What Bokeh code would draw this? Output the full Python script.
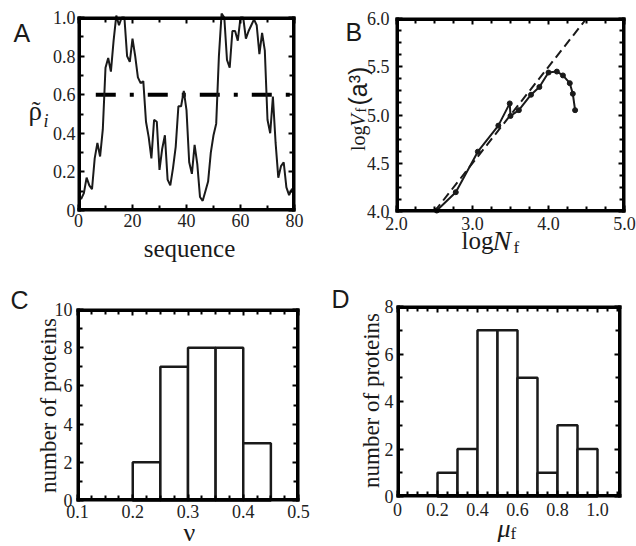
import math
from bokeh.plotting import figure
from bokeh.models import Range1d, LinearAxis, FixedTicker, Label
from bokeh.layouts import column, row
from bokeh.embed import file_html
from bokeh.resources import INLINE

# ---------------- data ----------------
# Panel A: normalized density along the sequence
seq_pos = list(range(81))
rho = [0.07, 0.06, 0.09, 0.17, 0.13, 0.11, 0.27, 0.35, 0.28, 0.42,
       0.74, 0.79, 0.72, 0.88, 1.01, 0.96, 1.00, 1.00, 0.80, 0.77,
       0.89, 0.80, 0.69, 0.66, 0.67, 0.46, 0.38, 0.27, 0.47, 0.46,
       0.21, 0.32, 0.39, 0.16, 0.13, 0.22, 0.33, 0.54, 0.54, 0.62,
       0.52, 0.25, 0.19, 0.34, 0.24, 0.07, 0.05, 0.10, 0.15, 0.30,
       0.39, 0.45, 0.80, 1.02, 1.00, 0.78, 0.74, 0.93, 0.93, 0.88,
       1.00, 1.00, 0.89, 0.93, 0.96, 0.99, 0.96, 0.81, 0.92, 0.83,
       0.47, 0.40, 0.59, 0.35, 0.17, 0.23, 0.25, 0.12, 0.08, 0.11, 0.11]
threshold_x = [6.4, 80]
threshold_y = [0.6, 0.6]
a_xlim = (0, 80)
a_ylim = (0, 1.0)
a_xticks = [0, 20, 40, 60, 80]
a_xtick_labels = ["0", "20", "40", "60", "80"]
a_xminor = [10, 30, 50, 70]
a_yticks = [0, 0.2, 0.4, 0.6, 0.8, 1.0]
a_ytick_labels = ["0", "0.2", "0.4", "0.6", "0.8", "1.0"]
a_yminor = [0.1, 0.3, 0.5, 0.7, 0.9]

# Panel B: log V_f vs log N_f
log_nf = [2.53, 2.78, 3.07, 3.34, 3.49, 3.50, 3.61, 3.77, 3.88, 4.00,
          4.11, 4.19, 4.28, 4.32, 4.35]
log_vf = [4.01, 4.20, 4.62, 4.89, 5.12, 4.99, 5.05, 5.21, 5.29, 5.44,
          5.45, 5.41, 5.33, 5.22, 5.05]
fit_x = [2.5, 4.5]
fit_y = [4.0, 6.0]
b_xlim = (2.0, 5.0)
b_ylim = (4.0, 6.0)
b_xticks = [2, 3, 4, 5]
b_xtick_labels = ["2.0", "3.0", "4.0", "5.0"]
b_xminor = [2.25, 2.5, 2.75, 3.25, 3.5, 3.75, 4.25, 4.5, 4.75]
b_yticks = [4.0, 4.5, 5.0, 5.5, 6.0]
b_ytick_labels = ["4.0", "4.5", "5.0", "5.5", "6.0"]
b_yminor = [4.125, 4.25, 4.375, 4.625, 4.75, 4.875, 5.125, 5.25, 5.375,
            5.625, 5.75, 5.875]

# Panel C: histogram of nu
nu_edges = [0.20, 0.25, 0.30, 0.35, 0.40, 0.45]
nu_counts = [2, 7, 8, 8, 3]
c_xlim = (0.1, 0.5)
c_ylim = (0, 10)
c_xticks = [0.1, 0.2, 0.3, 0.4, 0.5]
c_xtick_labels = ["0.1", "0.2", "0.3", "0.4", "0.5"]
c_xminor = [0.125, 0.15, 0.175, 0.225, 0.25, 0.275, 0.325, 0.35, 0.375,
            0.425, 0.45, 0.475]
c_yticks = [0, 2, 4, 6, 8, 10]
c_ytick_labels = ["0", "2", "4", "6", "8", "10"]
c_yminor = [1, 3, 5, 7, 9]

# Panel D: histogram of mu_f
mu_edges = [0.2, 0.3, 0.4, 0.5, 0.6, 0.7, 0.8, 0.9, 1.0]
mu_counts = [1, 2, 7, 7, 5, 1, 3, 2]
d_xlim = (0, 1.115)
d_ylim = (0, 8)
d_xticks = [0, 0.2, 0.4, 0.6, 0.8, 1.0]
d_xtick_labels = ["0", "0.2", "0.4", "0.6", "0.8", "1.0"]
d_xminor = [0.05, 0.1, 0.15, 0.25, 0.3, 0.35, 0.45, 0.5, 0.55, 0.65, 0.7,
            0.75, 0.85, 0.9, 0.95, 1.05, 1.1]
d_yticks = [0, 2, 4, 6, 8]
d_ytick_labels = ["0", "2", "4", "6", "8"]
d_yminor = [1, 3, 5, 7]

# ---------------- styling ----------------
INK = "#000000"
SOFT = "#1a1a1a"
SERIF = "Liberation Serif"
SANS = "Liberation Sans"
W, H = 318, 273


def style_axis(ax, labelled, standoff):
    ax.axis_line_color = None
    ax.major_tick_in = 6
    ax.major_tick_out = 0
    ax.minor_tick_in = 5
    ax.minor_tick_out = 0
    ax.major_tick_line_color = INK
    ax.minor_tick_line_color = INK
    ax.major_tick_line_width = 2
    ax.minor_tick_line_width = 2
    if labelled:
        ax.major_label_text_font = SERIF
        ax.major_label_text_font_size = "18px"
        ax.major_label_text_color = "#222222"
        ax.major_label_standoff = standoff
    else:
        ax.major_label_text_color = None
        ax.major_label_standoff = 0


def make_panel(origin, box, xlim, ylim, xt, xtl, xm, yt, ytl, ym,
               xstand, ystand):
    """box = (left, top, right, bottom) of the plotting box in page pixels."""
    ox, oy = origin
    bl, bt, br, bb = box[0] - ox, box[1] - oy, box[2] - ox, box[3] - oy
    xppu = (br - bl) / (xlim[1] - xlim[0])
    yppu = (bb - bt) / (ylim[1] - ylim[0])
    xr = (xlim[0] - bl / xppu, xlim[1] + (W - br) / xppu)
    yr = (ylim[0] - (H - bb) / yppu, ylim[1] + bt / yppu)
    p = figure(width=W, height=H, output_backend="svg", toolbar_location=None,
               x_range=Range1d(*xr), y_range=Range1d(*yr),
               min_border=0, x_axis_type=None, y_axis_type=None)
    p.background_fill_color = "white"
    p.border_fill_color = "white"
    p.outline_line_color = None
    xtick = FixedTicker(ticks=xt, minor_ticks=xm)
    ytick = FixedTicker(ticks=yt, minor_ticks=ym)
    for loc, fixed in (("below", ylim[0]), ("above", ylim[1])):
        ax = LinearAxis(ticker=xtick, fixed_location=fixed, bounds=xlim)
        style_axis(ax, loc == "below", xstand)
        if loc == "below":
            ax.major_label_overrides = {t: s for t, s in zip(xt, xtl)}
        p.add_layout(ax, loc)
    for loc, fixed in (("left", xlim[0]), ("right", xlim[1])):
        ax = LinearAxis(ticker=ytick, fixed_location=fixed, bounds=ylim)
        style_axis(ax, loc == "left", ystand)
        if loc == "left":
            ax.major_label_overrides = {t: s for t, s in zip(yt, ytl)}
        p.add_layout(ax, loc)
    p.tags = [ox, oy, xr[0], xr[1], yr[0], yr[1], xppu, yppu]
    return p


def frame_box(p, xlim, ylim):
    """Black frame drawn as four filled bands lying just inside the box edges."""
    xppu, yppu = p.tags[6], p.tags[7]
    xo, xi = 1.0 / xppu, 2.5 / xppu
    yo, yi = 1.0 / yppu, 2.5 / yppu
    x0, x1 = xlim
    y0, y1 = ylim
    p.quad(left=[x0 - xo, x0 - xo, x0 - xo, x1 - xi],
           right=[x1 + xo, x1 + xo, x0 + xi, x1 + xo],
           bottom=[y0 - yo, y1 - yi, y0 - yo, y0 - yo],
           top=[y0 + yi, y1 + yo, y1 + yo, y1 + yo],
           fill_color=INK, fill_alpha=1.0, line_color=None)


def put(p, px, py, text, size, font=SERIF, style="normal", align="left",
        baseline="alphabetic", angle=0.0):
    ox, oy, x0, x1, y0, y1 = p.tags[:6]
    x = x0 + (px - ox) / W * (x1 - x0)
    y = y1 - (py - oy) / H * (y1 - y0)
    p.add_layout(Label(x=x, y=y, text=text, text_font=font,
                       text_font_size=f"{size}px", text_font_style=style,
                       text_align=align, text_baseline=baseline, angle=angle,
                       text_color=SOFT))


half = math.pi / 2

# ---------------- Panel A ----------------
pa = make_panel((0, 0), (78, 17, 294, 210), a_xlim, a_ylim,
                a_xticks, a_xtick_labels, a_xminor,
                a_yticks, a_ytick_labels, a_yminor, 3, 3)
pa.line(threshold_x, threshold_y, line_color=INK, line_width=4,
        line_dash="20 14 4 14")
pa.line(seq_pos, rho, line_color=SOFT, line_width=2)
frame_box(pa, a_xlim, a_ylim)
put(pa, 13, 32, "A", 25, font=SANS)
put(pa, 28, 110, "\u03c1", 27)
put(pa, 35.5, 110, "\u02dc", 26, align="center")
put(pa, 43, 120, "i", 18, style="italic")
put(pa, 189, 248, "sequence", 25, align="center")

# ---------------- Panel B ----------------
pb = make_panel((318, 0), (396, 18, 624, 211), b_xlim, b_ylim,
                b_xticks, b_xtick_labels, b_xminor,
                b_yticks, b_ytick_labels, b_yminor, 5, 7)
pb.line(fit_x, fit_y, line_color=SOFT, line_width=2, line_dash="9 5")
pb.line(log_nf, log_vf, line_color=SOFT, line_width=2)
pb.scatter(log_nf, log_vf, size=5, color=SOFT)
frame_box(pb, b_xlim, b_ylim)
put(pb, 345, 31, "B", 25, font=SANS)
put(pb, 357, 150.5, "log", 20, angle=half)
put(pb, 357, 126, "V", 20, style="italic", angle=half)
put(pb, 361, 112, "f", 14, angle=half)
put(pb, 357, 105, "(a\u00b3)", 25, font=SANS, angle=half)
put(pb, 461, 240, "log", 25)
put(pb, 492, 240, "N", 28, style="italic")
put(pb, 513, 247, "f", 17)

# ---------------- Panel C ----------------
pc = make_panel((0, 273), (77, 309, 298, 500), c_xlim, c_ylim,
                c_xticks, c_xtick_labels, c_xminor,
                c_yticks, c_ytick_labels, c_yminor, 4, 5)
pc.quad(left=nu_edges[:-1], right=nu_edges[1:], bottom=0, top=nu_counts,
        fill_color="white", line_color=SOFT, line_width=2.5)
frame_box(pc, c_xlim, c_ylim)
put(pc, 10, 299, "C", 25, font=SANS)
put(pc, 48, 405, "number of proteins", 23, align="center", angle=half)
put(pc, 189, 532, "\u03bd", 26, align="center")

# ---------------- Panel D ----------------
pd_ = make_panel((318, 273), (397, 306, 620, 496), d_xlim, d_ylim,
                 d_xticks, d_xtick_labels, d_xminor,
                 d_yticks, d_ytick_labels, d_yminor, 6, 4)
pd_.quad(left=mu_edges[:-1], right=mu_edges[1:], bottom=0, top=mu_counts,
         fill_color="white", line_color=SOFT, line_width=2.5)
frame_box(pd_, d_xlim, d_ylim)
put(pd_, 331, 298, "D", 25, font=SANS)
put(pd_, 371, 400, "number of proteins", 23, align="center", angle=half)
put(pd_, 497, 528, "\u03bc", 26, style="italic")
put(pd_, 510, 533, "f", 17)

layout = column(row(pa, pb), row(pc, pd_))
open("out.html", "w").write(file_html(layout, INLINE))
